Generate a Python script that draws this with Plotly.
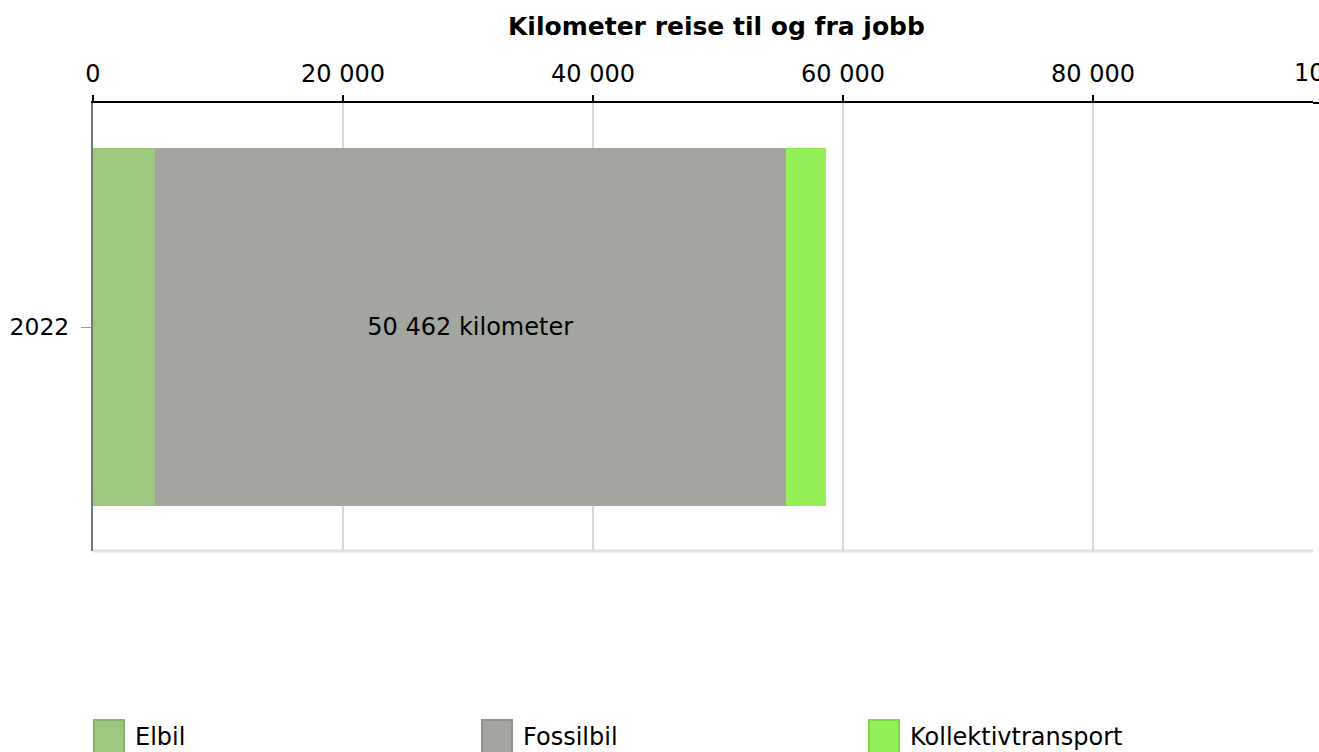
import plotly.graph_objects as go

categories = ["2022"]
series_names = ["Elbil", "Fossilbil", "Kollektivtransport"]
elbil = [4950]
fossilbil = [50462]
kollektiv = [3250]
bar_labels = ["", "50 462 kilometer", ""]
x_tickvals = [0, 20000, 40000, 60000, 80000]
colors = ["#9CC77F", "#A2A69F", "#92EF56"]
borders = ["#86B56A", "#8E928B", "#7ED846"]

W, H = 1319, 752
PL, PR, PT, PB = 93, 1313, 103, 551          # plot area in page pixels
L, R, T, B = PL, W - PR, PT, H - PB
pw, ph = PR - PL, PB - PT
xmax = (PR - PL) / 250 * 20000

FONT = "DejaVu Sans, Verdana, sans-serif"

fig = go.Figure()
for name, vals, col, lab in zip(series_names, [elbil, fossilbil, kollektiv], colors, bar_labels):
    fig.add_trace(go.Bar(
        y=categories, x=vals, name=name, orientation="h",
        marker=dict(color=col, line=dict(width=0)),
        text=[lab], textposition="inside", insidetextanchor="middle",
        textfont=dict(color="black", size=24, family=FONT),
        showlegend=False, hoverinfo="x+name",
    ))

fig.update_layout(
    width=W, height=H, barmode="stack", bargap=0.2,
    margin=dict(l=L, r=R, t=T, b=B, pad=0, autoexpand=False),
    plot_bgcolor="white", paper_bgcolor="white",
    separators=", ",
    font=dict(family=FONT, size=24, color="black"),
    uniformtext=dict(mode="show", minsize=8),
)
fig.update_xaxes(
    side="top", range=[0, xmax], tickvals=x_tickvals, tickformat=",d",
    showgrid=True, gridcolor="#d9d9d9", gridwidth=2,
    showline=True, linecolor="black", linewidth=2,
    ticks="outside", tickcolor="black", ticklen=6, tickwidth=2,
    ticklabelstandoff=3,
    tickfont=dict(size=24), zeroline=False, automargin=False,
)
fig.update_yaxes(
    type="category", showline=True, linecolor="#777777", linewidth=2,
    ticks="outside", tickcolor="#999999", ticklen=10, tickwidth=1,
    ticklabelstandoff=7, automargin=False,
    tickfont=dict(size=23.5), showgrid=False, zeroline=False,
)

def px(x):
    return (x - PL) / pw

def py(y):
    return (PB - y) / ph

# extra tick label at 100 000 (beyond visible range, cut by page edge)
fig.add_annotation(xref="paper", yref="paper", x=px(1343), y=py(73),
                   text="100 000", showarrow=False, xanchor="center", yanchor="middle",
                   font=dict(size=24, family=FONT))
# title
fig.add_annotation(xref="paper", yref="paper", x=px(716), y=py(27),
                   text="<b>Kilometer reise til og fra jobb</b>", showarrow=False,
                   xanchor="center", yanchor="middle", font=dict(size=25, family=FONT))
# extend top axis line to page edge
fig.add_shape(type="line", xref="paper", yref="paper", x0=1, x1=px(1325), y0=1, y1=1,
              line=dict(color="black", width=2))
# bottom light line
fig.add_shape(type="line", xref="paper", yref="paper", x0=0, x1=1, y0=0, y1=0,
              line=dict(color="#e3e3e3", width=3), layer="below")

# legend built from series
leg_x = [93, 481, 868]
for name, col, bc, lx in zip(series_names, colors, borders, leg_x):
    fig.add_shape(type="rect", xref="paper", yref="paper",
                  x0=px(lx + 1), x1=px(lx + 31), y0=py(753), y1=py(720),
                  fillcolor=col, line=dict(color=bc, width=2))
    fig.add_annotation(xref="paper", yref="paper", x=px(lx + 40),
                       y=py(737), text=name, showarrow=False,
                       xanchor="left", yanchor="middle", font=dict(size=24, family=FONT))

fig.write_html("out.html", config={"displayModeBar": False},
               post_script="document.body.style.margin='0px';document.body.style.overflow='hidden';")
